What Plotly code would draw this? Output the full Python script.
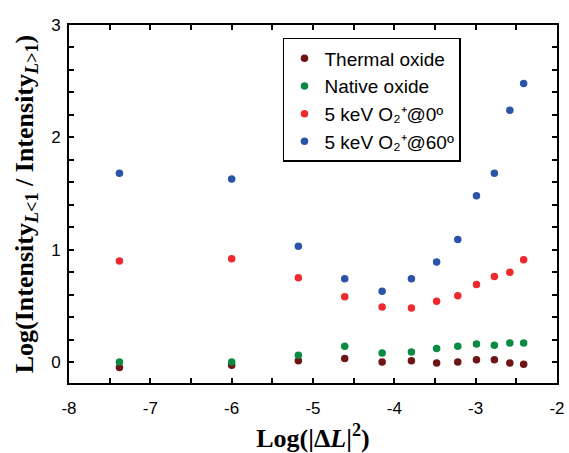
import plotly.graph_objects as go

# Log(|ΔL|^2) positions of the measurements
log_dl2 = [-7.38, -6.00, -5.18, -4.61, -4.15, -3.79, -3.48, -3.22, -2.99, -2.77, -2.58, -2.41]

# Log(Intensity_{L<1} / Intensity_{L>1}) for each sample
thermal_oxide = [-0.05, -0.03, 0.01, 0.03, 0.00, 0.01, -0.01, 0.00, 0.02, 0.02, -0.01, -0.02]
native_oxide = [0.00, 0.00, 0.06, 0.14, 0.08, 0.09, 0.12, 0.14, 0.16, 0.15, 0.17, 0.17]
o2_0deg = [0.90, 0.92, 0.75, 0.58, 0.49, 0.48, 0.54, 0.59, 0.69, 0.76, 0.80, 0.91]
o2_60deg = [1.68, 1.63, 1.03, 0.74, 0.63, 0.74, 0.89, 1.09, 1.48, 1.68, 2.24, 2.48]

series_names = [
    "Thermal oxide",
    "Native oxide",
    "5 keV O₂⁺@0º",
    "5 keV O₂⁺@60º",
]
series_values = [thermal_oxide, native_oxide, o2_0deg, o2_60deg]
series_colors = ["#6e1416", "#0a8a42", "#ee2a2e", "#2b54a8"]

# tick positions and labels (plain hyphen for negatives)
x_tickvals = [-8, -7, -6, -5, -4, -3, -2]
x_ticktext = ["-8", "-7", "-6", "-5", "-4", "-3", "-2"]
y_tickvals = [0, 1, 2, 3]
y_ticktext = ["0", "1", "2", "3"]

fig = go.Figure()
for name, vals, col in zip(series_names, series_values, series_colors):
    fig.add_trace(go.Scatter(
        x=log_dl2, y=vals, mode="markers", name=name,
        marker=dict(color=col, size=7.5, line=dict(width=0)),
    ))

axis_common = dict(
    showline=True, linecolor="black", linewidth=2, mirror="ticks",
    ticks="inside", ticklen=5, tickwidth=1.5, tickcolor="black",
    showgrid=False, zeroline=False, automargin=False,
    tickfont=dict(family="Liberation Sans, Arial", size=17, color="black"),
    tickmode="array",
)
title_font = dict(family="Liberation Serif, Times New Roman", size=26, color="black", weight="bold")

fig.update_xaxes(
    range=[-8, -2], tickvals=x_tickvals, ticktext=x_ticktext,
    ticklabelstandoff=9,
    minor=dict(tickmode="linear", tick0=-8, dtick=0.5, ticks="inside", ticklen=5,
               tickwidth=1.5, tickcolor="black", showgrid=False),
    title=dict(text="Log(|Δ<i>L</i>|<sup>2</sup>)", font=title_font, standoff=22),
    **axis_common,
)
fig.update_yaxes(
    range=[-0.187, 3.0], tickvals=y_tickvals, ticktext=y_ticktext,
    ticklabelstandoff=3,
    minor=dict(tickmode="linear", tick0=0, dtick=0.2, ticks="inside", ticklen=5,
               tickwidth=1.5, tickcolor="black", showgrid=False),
    title=dict(text="Log(Intensity<sub><i>L</i>&lt;1</sub> / Intensity<sub><i>L</i>&gt;1</sub>)",
               font=title_font, standoff=10),
    **axis_common,
)

fig.update_layout(
    width=569, height=453,
    margin=dict(l=69, r=12, t=25, b=70),
    paper_bgcolor="white", plot_bgcolor="white",
    showlegend=True,
    legend=dict(
        x=0.4385, y=0.964, xanchor="left", yanchor="top",
        bgcolor="white", bordercolor="black", borderwidth=1.5,
        font=dict(family="Liberation Sans, Arial", size=19, color="black"),
        itemwidth=30, tracegroupgap=0,
    ),
)

fig.write_html("out.html")
